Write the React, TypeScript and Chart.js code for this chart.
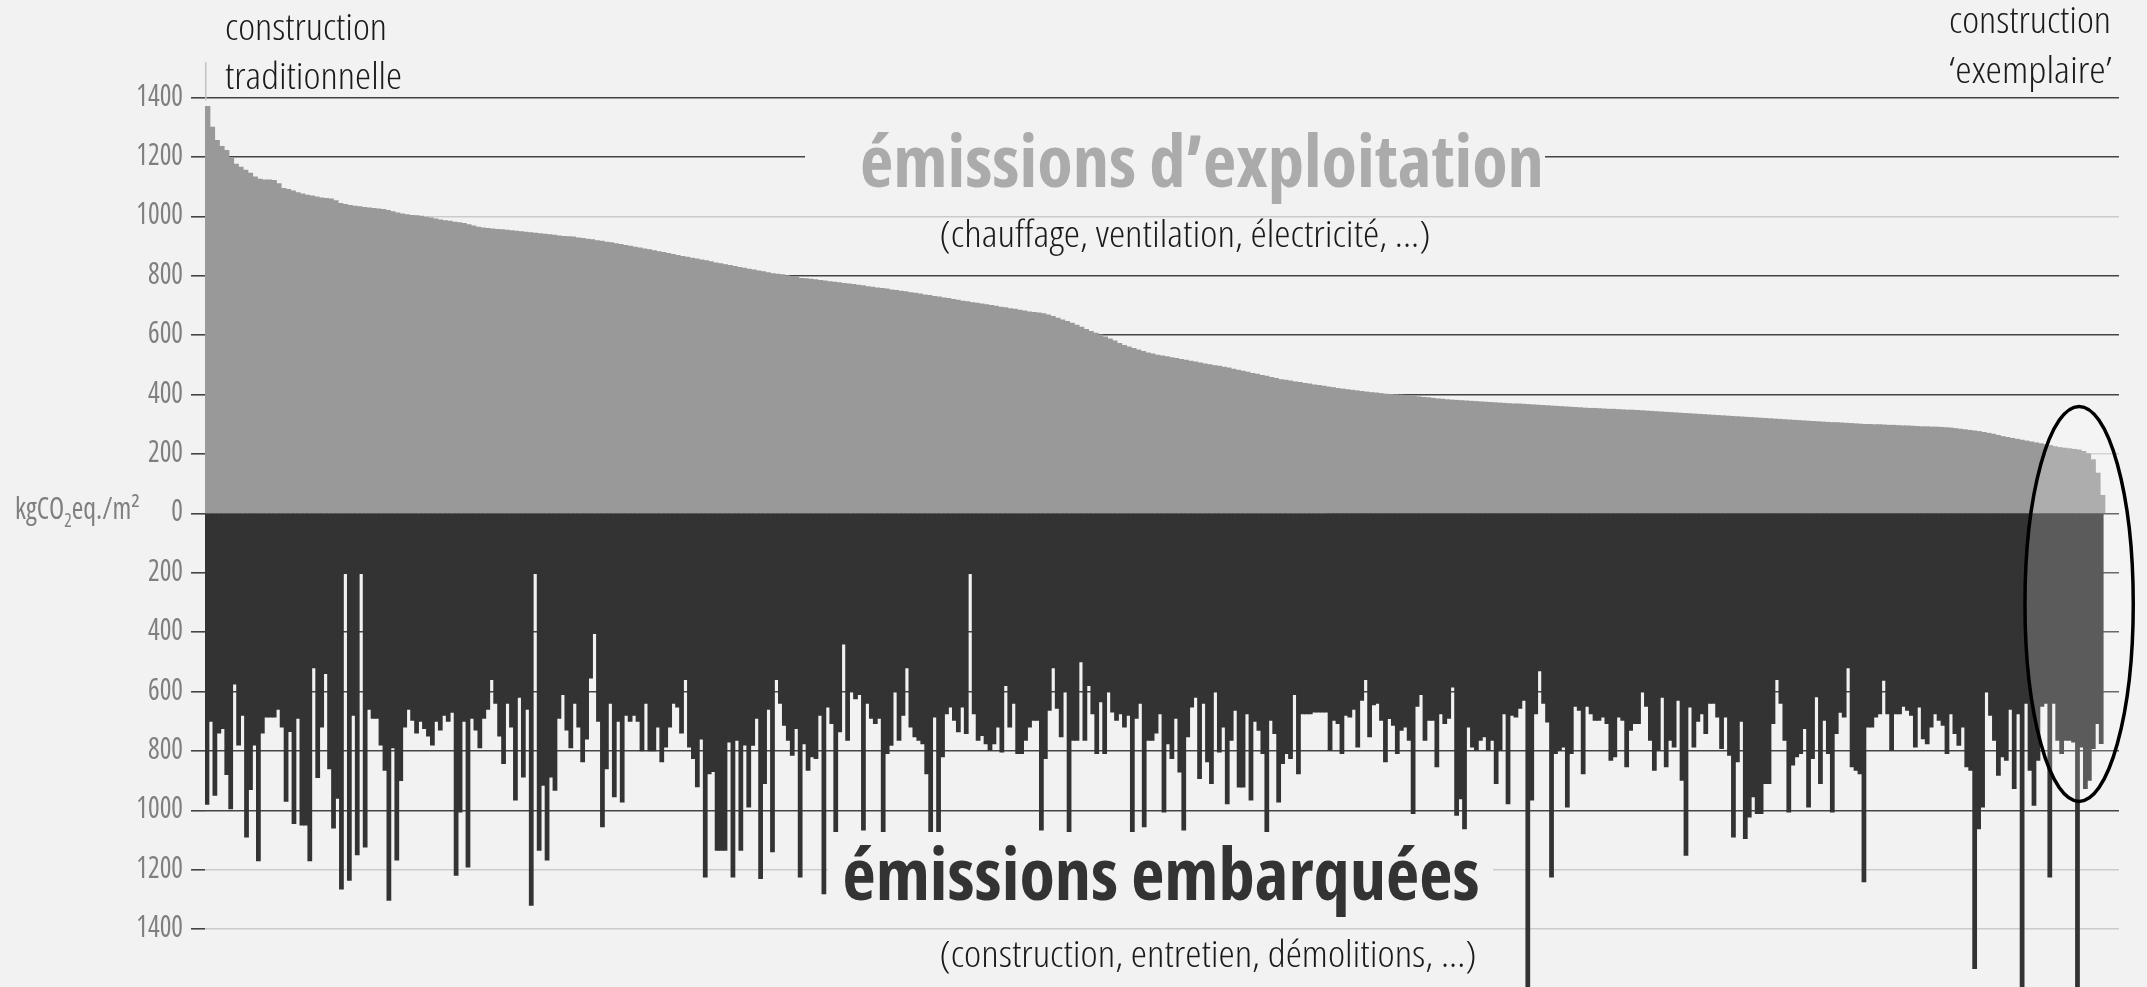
import React, { useEffect, useRef } from 'react';
import { Chart, registerables } from 'chart.js';

Chart.register(...registerables);

// ---- DATA (kgCO2eq./m²) ----
// émissions d'exploitation, one bar per building, sorted from "traditionnelle" to "exemplaire"
const exploitation: number[] = [
  1370, 1300, 1255, 1235, 1222, 1195, 1175, 1165, 1155, 1145,
  1132, 1125, 1122, 1122, 1121, 1110, 1094, 1090, 1085, 1079,
  1075, 1071, 1068, 1065, 1062, 1060, 1058, 1052, 1043, 1040,
  1036, 1034, 1032, 1030, 1028, 1026, 1025, 1023, 1020, 1015,
  1011, 1008, 1005, 1003, 1002, 1000, 997, 994, 991, 988,
  985, 983, 980, 978, 976, 972, 967, 963, 961, 959,
  957, 956, 955, 953, 951, 950, 948, 946, 945, 943,
  941, 940, 938, 936, 934, 932, 931, 930, 927, 925,
  923, 921, 918, 916, 913, 911, 908, 905, 902, 899,
  896, 893, 890, 887, 884, 881, 878, 875, 871, 868,
  865, 862, 859, 856, 853, 850, 847, 843, 840, 837,
  834, 831, 828, 825, 822, 819, 816, 813, 810, 807,
  805, 803, 800, 797, 794, 791, 790, 788, 786, 784,
  782, 780, 778, 776, 774, 772, 770, 768, 766, 763,
  761, 759, 757, 755, 752, 750, 748, 746, 743, 741,
  738, 735, 733, 730, 728, 725, 723, 720, 717, 714,
  712, 709, 707, 705, 702, 700, 697, 694, 692, 689,
  687, 684, 681, 678, 676, 674, 672, 668, 663, 657,
  651, 646, 640, 633, 626, 619, 612, 606, 600, 594,
  587, 580, 572, 565, 560, 555, 550, 545, 540, 536,
  532, 530, 527, 524, 521, 518, 515, 512, 509, 506,
  503, 500, 497, 495, 492, 489, 485, 482, 478, 475,
  471, 468, 464, 461, 457, 454, 450, 448, 445, 442,
  440, 437, 435, 432, 430, 428, 425, 423, 420, 418,
  416, 414, 412, 410, 408, 406, 405, 403, 401, 400,
  399, 398, 397, 395, 394, 392, 390, 389, 387, 385,
  384, 382, 381, 380, 379, 378, 377, 376, 375, 374,
  373, 372, 371, 370, 369, 368, 368, 367, 366, 365,
  364, 363, 362, 361, 360, 359, 358, 357, 356, 355,
  354, 353, 353, 352, 351, 350, 350, 349, 348, 347,
  347, 346, 345, 344, 343, 342, 341, 340, 339, 338,
  337, 336, 335, 334, 333, 332, 331, 330, 329, 328,
  327, 326, 325, 324, 323, 322, 321, 320, 319, 318,
  317, 316, 315, 314, 313, 312, 311, 310, 309, 308,
  307, 306, 305, 305, 304, 303, 302, 301, 300, 299,
  299, 298, 298, 297, 296, 296, 295, 294, 294, 293,
  292, 291, 291, 290, 290, 289, 288, 287, 285, 283,
  281, 279, 277, 275, 272, 269, 266, 262, 258, 255,
  252, 249, 246, 243, 240, 237, 234, 231, 228, 224,
  221, 219, 217, 215, 213, 208, 200, 180, 135, 60,
];

// émissions embarquées (negative = drawn below the axis)
const embarquees: number[] = [
  -980, -700, -950, -740, -725, -880, -995, -575, -780, -680,
  -1090, -930, -780, -1170, -740, -686, -686, -686, -660, -720,
  -970, -735, -1045, -690, -1050, -1050, -1170, -520, -890, -720,
  -540, -860, -1060, -960, -1265, -203, -1236, -680, -1150, -203,
  -1124, -660, -690, -690, -780, -865, -1303, -790, -1168, -900,
  -720, -660, -697, -740, -700, -725, -750, -780, -700, -730,
  -680, -700, -670, -1219, -1006, -700, -1191, -690, -730, -790,
  -690, -660, -560, -640, -750, -843, -640, -720, -966, -620,
  -888, -660, -1320, -203, -1135, -916, -1168, -888, -933, -690,
  -610, -730, -790, -640, -720, -837, -760, -555, -405, -700,
  -1056, -860, -640, -955, -700, -972, -680, -700, -680, -700,
  -800, -640, -800, -800, -720, -837, -787, -720, -640, -652,
  -740, -560, -787, -826, -921, -760, -1225, -877, -870, -1135,
  -1135, -1135, -770, -1225, -764, -1135, -780, -989, -781, -690,
  -1230, -910, -660, -1140, -560, -640, -714, -764, -815, -725,
  -1225, -776, -865, -820, -826, -680, -1281, -652, -708, -1073,
  -736, -440, -764, -600, -625, -610, -1067, -640, -690, -708,
  -690, -1073, -809, -781, -600, -764, -680, -520, -720, -753,
  -764, -776, -877, -1073, -686, -1073, -820, -675, -652, -697,
  -736, -652, -742, -203, -675, -764, -748, -776, -798, -776,
  -720, -804, -580, -720, -640, -809, -809, -764, -720, -697,
  -697, -1067, -826, -663, -520, -657, -753, -600, -1073, -764,
  -764, -500, -764, -580, -675, -809, -635, -809, -600, -669,
  -697, -675, -720, -680, -1073, -690, -640, -1056, -764, -764,
  -740, -675, -1006, -776, -826, -690, -871, -1067, -753, -652,
  -620, -893, -640, -837, -910, -600, -804, -720, -978, -764,
  -663, -922, -922, -675, -966, -700, -731, -809, -1073, -697,
  -742, -972, -843, -809, -826, -610, -877, -675, -675, -675,
  -669, -669, -669, -669, -798, -697, -708, -809, -680, -686,
  -660, -787, -630, -560, -753, -645, -640, -697, -837, -691,
  -714, -809, -731, -720, -764, -1011, -650, -610, -764, -697,
  -697, -854, -675, -708, -690, -585, -1017, -961, -1062, -720,
  -787, -798, -764, -753, -798, -764, -910, -798, -675, -978,
  -680, -686, -657, -630, -1700, -966, -675, -530, -640, -703,
  -1225, -809, -798, -787, -989, -809, -650, -663, -877, -650,
  -675, -697, -697, -686, -708, -832, -820, -686, -697, -854,
  -731, -708, -708, -600, -650, -764, -865, -798, -620, -854,
  -764, -787, -630, -899, -1152, -652, -787, -700, -675, -742,
  -640, -640, -686, -792, -686, -815, -1090, -837, -700, -1095,
  -1023, -955, -1011, -1011, -910, -910, -708, -560, -640, -764,
  -1006, -848, -820, -809, -725, -989, -826, -618, -910, -697,
  -809, -1006, -742, -670, -686, -520, -854, -865, -877, -1241,
  -720, -720, -686, -675, -562, -675, -798, -675, -675, -650,
  -663, -680, -787, -652, -759, -776, -720, -675, -697, -714,
  -809, -675, -742, -781, -720, -854, -865, -1533, -1062, -989,
  -600, -680, -764, -882, -820, -832, -660, -927, -675, -1700,
  -640, -865, -983, -832, -650, -640, -1225, -640, -764, -809,
  -764, -764, -770, -1700, -787, -927, -899, -792, -708, -775,
];

const tickValues: number[] = [1400, 1200, 1000, 800, 600, 400, 200, 0, -200, -400, -600, -800, -1000, -1200, -1400];
const lightGridValues: number[] = [1000, 200, -1200, -1400];
const yMin = -1595;
const yMax = 1520;

// categories (one per building) + a few empty slots on the right
const buildingsTop: string[] = exploitation.map((_, i) => `bâtiment ${i + 1}`).concat(['', '', '']);
const buildingsBottom: string[] = embarquees.map((_, i) => `bâtiment ${i + 1}`).concat(['', '', '', '']);

// highlighted group ("exemplaire"), in top-axis index units and y values
const highlight = { fromIndex: 382.7, toIndex: 405.5, top: 360, bottom: -970 };

// ---- STYLE ----
const BG = '#f2f2f2';
const DARK_GRID = 'rgba(0,0,0,0.72)';
const LIGHT_GRID = 'rgba(0,0,0,0.16)';
const FONT = "'Open Sans', 'Noto Sans', sans-serif";

function setFont(ctx: CanvasRenderingContext2D, weight: number, size: number) {
  ctx.font = `${weight} ${size}px ${FONT}`;
  try { (ctx as any).fontStretch = 'condensed'; } catch (e) { /* ignore */ }
}

function fitText(
  ctx: CanvasRenderingContext2D, text: string, x: number, y: number,
  weight: number, size: number, color: string, targetW: number, align: CanvasTextAlign,
) {
  ctx.save();
  setFont(ctx, weight, size);
  const w = ctx.measureText(text).width;
  const sx = w > 0 ? targetW / w : 1;
  ctx.translate(x, y);
  ctx.scale(sx, 1);
  ctx.fillStyle = color;
  ctx.textAlign = align;
  ctx.textBaseline = 'alphabetic';
  ctx.fillText(text, 0, 0);
  ctx.restore();
}

const decorPlugin = {
  id: 'decor',
  beforeDraw(chart: any) {
    const { ctx, width, height } = chart;
    ctx.save();
    ctx.fillStyle = BG;
    ctx.fillRect(0, 0, width, height);
    ctx.restore();
  },
  afterDraw(chart: any) {
    const ctx: CanvasRenderingContext2D = chart.ctx;
    const ys = chart.scales.y;
    const xs = chart.scales.x;
    const left = chart.chartArea.left;

    // thin first bar line
    ctx.save();
    ctx.strokeStyle = '#c4c4c4';
    ctx.lineWidth = 1.5;
    ctx.beginPath();
    ctx.moveTo(left + 0.75, ys.getPixelForValue(yMax));
    ctx.lineTo(left + 0.75, ys.getPixelForValue(1390));
    ctx.stroke();
    ctx.restore();

    // y tick labels
    ctx.save();
    setFont(ctx, 400, 30);
    const sx = 46.7 / ctx.measureText('1400').width;
    ctx.fillStyle = '#7f7f7f';
    ctx.textAlign = 'right';
    ctx.textBaseline = 'alphabetic';
    tickValues.forEach((v) => {
      const py = ys.getPixelForValue(v);
      ctx.save();
      ctx.translate(183, py + 8);
      ctx.scale(sx, 1);
      ctx.fillText(String(Math.abs(v)), 0, 0);
      ctx.restore();
    });
    ctx.restore();

    // unit label kgCO2eq./m²
    ctx.save();
    ctx.fillStyle = '#7f7f7f';
    ctx.textAlign = 'left';
    ctx.textBaseline = 'alphabetic';
    setFont(ctx, 400, 30);
    const w1 = ctx.measureText('kgCO').width;
    const w3 = ctx.measureText('eq./m²').width;
    setFont(ctx, 400, 19);
    const w2 = ctx.measureText('2').width;
    const usx = 125 / (w1 + w2 + w3);
    const zeroY = ys.getPixelForValue(0) + 6;
    ctx.translate(15, zeroY);
    ctx.scale(usx, 1);
    setFont(ctx, 400, 30);
    ctx.fillText('kgCO', 0, 0);
    setFont(ctx, 400, 19);
    ctx.fillText('2', w1, 8);
    setFont(ctx, 400, 30);
    ctx.fillText('eq./m²', w1 + w2, 0);
    ctx.restore();

    // title background boxes (hide grid lines behind titles)
    ctx.save();
    ctx.fillStyle = BG;
    ctx.fillRect(805, 124, 740, 82);
    ctx.fillRect(828, 832, 665, 86);
    ctx.restore();

    // annotations
    fitText(ctx, 'construction', 225, 40, 300, 37, '#1a1a1a', 162, 'left');
    fitText(ctx, 'traditionnelle', 225, 89, 300, 37, '#1a1a1a', 177, 'left');
    fitText(ctx, 'construction', 2111, 33, 300, 37, '#1a1a1a', 162, 'right');
    fitText(ctx, '‘exemplaire’', 2112, 83, 300, 37, '#1a1a1a', 163, 'right');

    fitText(ctx, 'émissions d’exploitation', 1202, 187, 700, 72, '#ababab', 684, 'center');
    fitText(ctx, '(chauffage, ventilation, électricité, ...)', 1185, 247, 300, 36, '#1a1a1a', 491, 'center');
    fitText(ctx, 'émissions embarquées', 1161, 900, 700, 72, '#333333', 637, 'center');
    fitText(ctx, '(construction, entretien, démolitions, ...)', 1208, 967, 300, 36, '#1a1a1a', 537, 'center');

    // highlight ellipse
    const l = xs.getPixelForValue(highlight.fromIndex);
    const r = xs.getPixelForValue(highlight.toIndex);
    const t = ys.getPixelForValue(highlight.top);
    const b = ys.getPixelForValue(highlight.bottom);
    ctx.save();
    ctx.beginPath();
    ctx.ellipse((l + r) / 2, (t + b) / 2, (r - l) / 2, (b - t) / 2, 0, 0, Math.PI * 2);
    ctx.fillStyle = 'rgba(255,255,255,0.2)';
    ctx.fill();
    ctx.lineWidth = 3.5;
    ctx.strokeStyle = '#000000';
    ctx.stroke();
    ctx.restore();
  },
};

export default function App() {
  const ref = useRef<HTMLCanvasElement>(null);

  useEffect(() => {
    if (!ref.current) return;
    const chart = new Chart(ref.current, {
      type: 'bar',
      data: {
        labels: buildingsTop,
        datasets: [
          {
            label: 'émissions d’exploitation',
            data: exploitation,
            xAxisID: 'x',
            yAxisID: 'y',
            backgroundColor: '#999999',
            borderWidth: 0,
            barPercentage: 1,
            categoryPercentage: 1,
            grouped: false,
            inflateAmount: 0.6,
          },
          {
            label: 'émissions embarquées',
            data: embarquees,
            xAxisID: 'x2',
            yAxisID: 'y',
            backgroundColor: '#333333',
            borderWidth: 0,
            barPercentage: 1,
            categoryPercentage: 1,
            grouped: false,
            inflateAmount: 0.4,
          },
        ],
      },
      plugins: [decorPlugin],
      options: {
        responsive: false,
        animation: false,
        devicePixelRatio: 1,
        events: [],
        layout: { padding: { left: 0, right: 28, top: 62, bottom: 0 } },
        plugins: {
          legend: { display: false },
          tooltip: { enabled: false },
          title: { display: false },
        },
        scales: {
          x: {
            type: 'category',
            display: false,
            offset: true,
            grid: { display: false },
          },
          x2: {
            type: 'category',
            labels: buildingsBottom,
            display: false,
            offset: true,
            grid: { display: false },
          },
          y: {
            type: 'linear',
            min: yMin,
            max: yMax,
            z: 1,
            afterFit: (s: any) => { s.width = 205; },
            afterBuildTicks: (s: any) => { s.ticks = tickValues.map((v) => ({ value: v })); },
            ticks: { display: false },
            border: { display: false },
            grid: {
              color: (c: any) => (lightGridValues.includes(c.tick?.value) ? LIGHT_GRID : DARK_GRID),
              tickColor: DARK_GRID,
              lineWidth: 1.6,
              tickLength: 14,
              drawTicks: true,
            },
          },
        },
      } as any,
    });
    return () => chart.destroy();
  }, []);

  return (
    <div style={{ position: 'fixed', left: 0, top: 0, width: 2147, height: 987, background: BG }}>
      <canvas ref={ref} width={2147} height={987} style={{ display: 'block', width: 2147, height: 987 }} />
    </div>
  );
}
